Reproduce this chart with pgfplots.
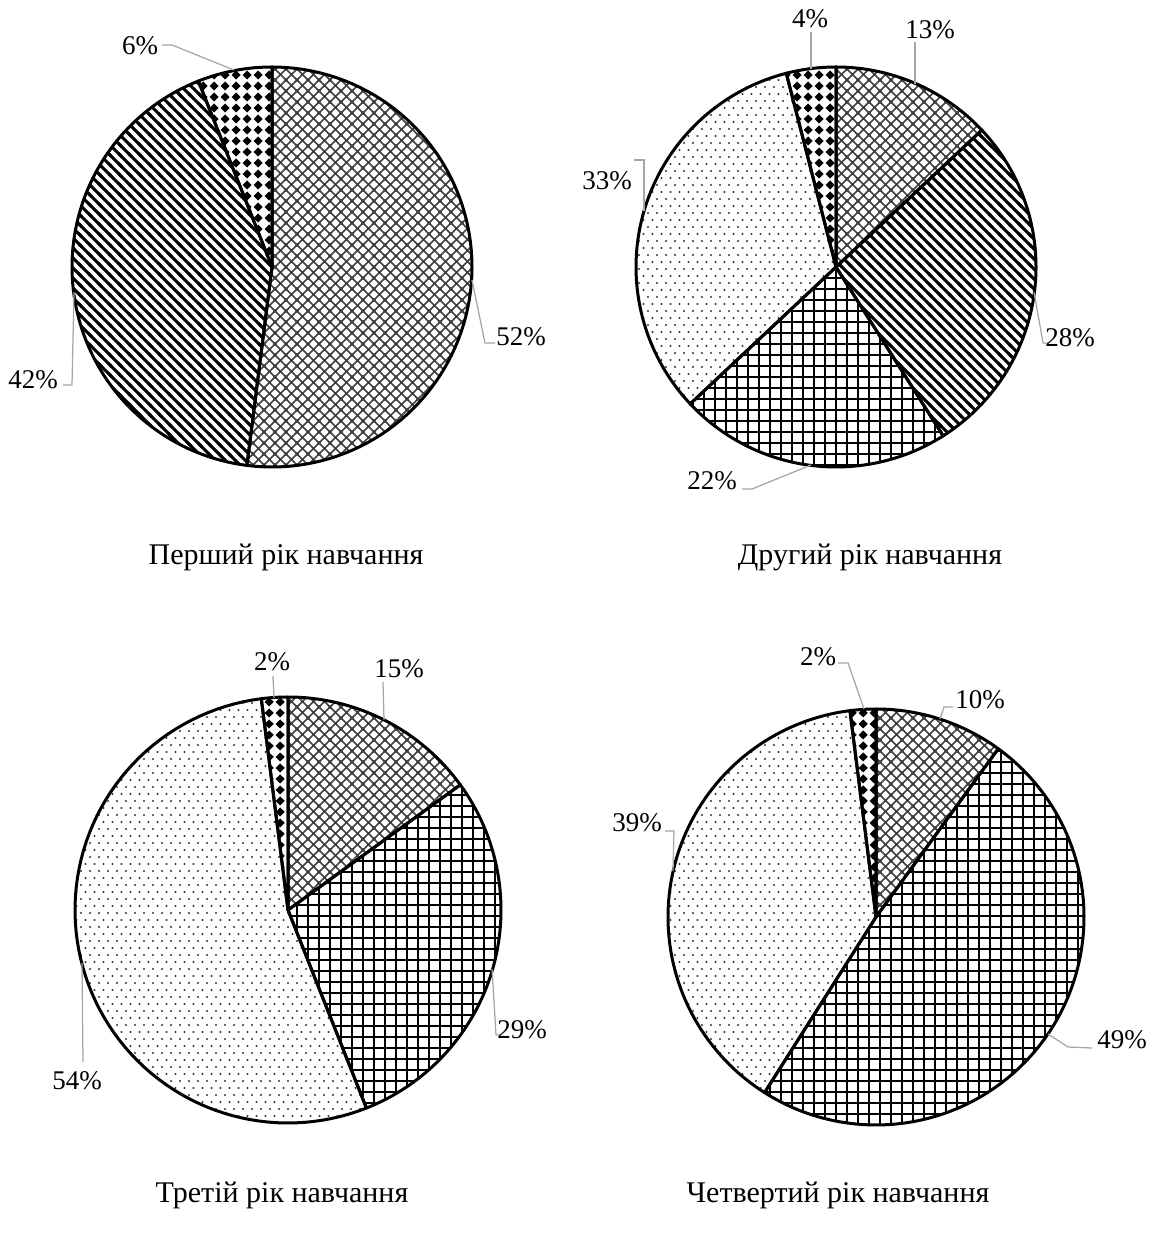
\documentclass[border=0pt]{standalone}
\usepackage{fontspec}
\setmainfont{Liberation Serif}
\usepackage{pgfplots}
\pgfplotsset{compat=1.18}
\usetikzlibrary{patterns}

% diagonal cross-hatch (grey)
\pgfdeclarepatternformonly{xhatch}{\pgfqpoint{-1pt}{-1pt}}{\pgfqpoint{5.4pt}{5.4pt}}{\pgfqpoint{4.4pt}{4.4pt}}{%
  \pgfsetlinewidth{0.6pt}%
  \pgfpathmoveto{\pgfqpoint{-0.5pt}{-0.5pt}}\pgfpathlineto{\pgfqpoint{4.9pt}{4.9pt}}%
  \pgfpathmoveto{\pgfqpoint{-0.5pt}{4.9pt}}\pgfpathlineto{\pgfqpoint{4.9pt}{-0.5pt}}%
  \pgfusepath{stroke}}
% thick "\" lines
\pgfdeclarepatternformonly{nwlines}{\pgfqpoint{-1pt}{-1pt}}{\pgfqpoint{5pt}{5pt}}{\pgfqpoint{4pt}{4pt}}{%
  \pgfsetlinewidth{1.2pt}%
  \pgfpathmoveto{\pgfqpoint{-1pt}{5pt}}\pgfpathlineto{\pgfqpoint{5pt}{-1pt}}%
  \pgfusepath{stroke}}
% square grid
\pgfdeclarepatternformonly{sqgrid}{\pgfqpoint{-1pt}{-1pt}}{\pgfqpoint{5.4pt}{5.4pt}}{\pgfqpoint{4.4pt}{4.4pt}}{%
  \pgfsetlinewidth{0.75pt}%
  \pgfpathmoveto{\pgfqpoint{0pt}{-0.5pt}}\pgfpathlineto{\pgfqpoint{0pt}{4.9pt}}%
  \pgfpathmoveto{\pgfqpoint{-0.5pt}{0pt}}\pgfpathlineto{\pgfqpoint{4.9pt}{0pt}}%
  \pgfusepath{stroke}}
% sparse staggered dots
\pgfdeclarepatternformonly{sdots}{\pgfqpoint{-1pt}{-1pt}}{\pgfqpoint{4.6pt}{6.6pt}}{\pgfqpoint{3.6pt}{5.6pt}}{%
  \pgfpathcircle{\pgfqpoint{0pt}{0pt}}{0.45pt}%
  \pgfpathcircle{\pgfqpoint{1.8pt}{2.8pt}}{0.45pt}%
  \pgfusepath{fill}}
% black diamonds
\pgfdeclarepatternformonly{bdiam}{\pgfqpoint{0pt}{0pt}}{\pgfqpoint{4.4pt}{4.4pt}}{\pgfqpoint{4.4pt}{4.4pt}}{%
  \pgfpathmoveto{\pgfqpoint{2.2pt}{0.25pt}}%
  \pgfpathlineto{\pgfqpoint{4.15pt}{2.2pt}}%
  \pgfpathlineto{\pgfqpoint{2.2pt}{4.15pt}}%
  \pgfpathlineto{\pgfqpoint{0.25pt}{2.2pt}}%
  \pgfpathclose
  \pgfusepath{fill}}

% slice: center x, center y, radius, cumulative % start, cumulative % end, pattern options
\newcommand{\pieslice}[6]{%
  \addplot[draw=black, line width=1.2pt, line join=round, #6,
    domain=#4:#5, samples=80, variable=\t]
    ({#1+#3*cos(90-3.6*\t)}, {#2-#3*sin(90-3.6*\t)}) -- (axis cs:#1,#2) -- cycle;}

\tikzset{lead/.style={draw=black!35, line width=0.5pt},
  lab/.style={font=\fontsize{10.8}{12}\selectfont, inner sep=0pt},
  ttl/.style={font=\fontsize{12}{14}\selectfont, inner sep=0pt}}

\begin{document}
\begin{tikzpicture}
\begin{axis}[
  width=462pt, height=494pt, scale only axis,
  xmin=0, xmax=1155, ymin=0, ymax=1235, y dir=reverse,
  hide axis, clip=false]

% ---- Pie 1: 52, 42, 6
\pieslice{272}{267}{200}{0}{52}{pattern=xhatch, pattern color=black!75}
\pieslice{272}{267}{200}{52}{94}{pattern=nwlines, pattern color=black}
\pieslice{272}{267}{200}{94}{100}{pattern=bdiam, pattern color=black}

% ---- Pie 2: 13, 28, 22, 33, 4
\pieslice{836}{267}{200}{0}{13}{pattern=xhatch, pattern color=black!75}
\pieslice{836}{267}{200}{13}{41}{pattern=nwlines, pattern color=black}
\pieslice{836}{267}{200}{41}{63}{pattern=sqgrid, pattern color=black}
\pieslice{836}{267}{200}{63}{96}{pattern=sdots, pattern color=black!80}
\pieslice{836}{267}{200}{96}{100}{pattern=bdiam, pattern color=black}

% ---- Pie 3: 15, 29, 54, 2
\pieslice{288}{910}{213}{0}{15}{pattern=xhatch, pattern color=black!75}
\pieslice{288}{910}{213}{15}{44}{pattern=sqgrid, pattern color=black}
\pieslice{288}{910}{213}{44}{98}{pattern=sdots, pattern color=black!80}
\pieslice{288}{910}{213}{98}{100}{pattern=bdiam, pattern color=black}

% ---- Pie 4: 10, 49, 39, 2
\pieslice{876}{917}{208}{0}{10}{pattern=xhatch, pattern color=black!75}
\pieslice{876}{917}{208}{10}{59}{pattern=sqgrid, pattern color=black}
\pieslice{876}{917}{208}{59}{98}{pattern=sdots, pattern color=black!80}
\pieslice{876}{917}{208}{98}{100}{pattern=bdiam, pattern color=black}

% ---- leader lines
\draw[lead] (axis cs:234,70) -- (axis cs:172,45) -- (axis cs:162,45);
\draw[lead] (axis cs:472,280) -- (axis cs:485,343) -- (axis cs:495,343);
\draw[lead] (axis cs:74,292) -- (axis cs:72,385) -- (axis cs:63,385);

\draw[lead] (axis cs:811,69) -- (axis cs:811,32);
\draw[lead] (axis cs:915,84) -- (axis cs:915,42);
\draw[lead] (axis cs:1034,292) -- (axis cs:1043,343) -- (axis cs:1049,343);
\draw[lead] (axis cs:811,465) -- (axis cs:752,489) -- (axis cs:742,489);
\draw[lead] (axis cs:644,211) -- (axis cs:644,160) -- (axis cs:634,160);

\draw[lead] (axis cs:274,698) -- (axis cs:273,676);
\draw[lead] (axis cs:384,720) -- (axis cs:383,682);
\draw[lead] (axis cs:492,969) -- (axis cs:496,1035) -- (axis cs:500,1035);
\draw[lead] (axis cs:82,963) -- (axis cs:83,1062);

\draw[lead] (axis cs:864,709) -- (axis cs:848,663) -- (axis cs:838,663);
\draw[lead] (axis cs:940,719) -- (axis cs:944,707) -- (axis cs:953,707);
\draw[lead] (axis cs:1048,1034) -- (axis cs:1068,1047) -- (axis cs:1092,1048);
\draw[lead] (axis cs:673,871) -- (axis cs:674,831) -- (axis cs:665,831);

% ---- labels
\node[lab] at (axis cs:140,46) {6\%};
\node[lab] at (axis cs:521,337) {52\%};
\node[lab] at (axis cs:33,380) {42\%};

\node[lab] at (axis cs:810,19) {4\%};
\node[lab] at (axis cs:930,30) {13\%};
\node[lab] at (axis cs:1070,338) {28\%};
\node[lab] at (axis cs:712,481) {22\%};
\node[lab] at (axis cs:607,181) {33\%};

\node[lab] at (axis cs:272,662) {2\%};
\node[lab] at (axis cs:399,669) {15\%};
\node[lab] at (axis cs:522,1030) {29\%};
\node[lab] at (axis cs:77,1081) {54\%};

\node[lab] at (axis cs:818,657) {2\%};
\node[lab] at (axis cs:980,700) {10\%};
\node[lab] at (axis cs:1122,1040) {49\%};
\node[lab] at (axis cs:637,823) {39\%};

% ---- titles
\node[ttl] at (axis cs:286,557) {Перший рік навчання};
\node[ttl] at (axis cs:870,557) {Другий рік навчання};
\node[ttl] at (axis cs:282,1195) {Третій рік навчання};
\node[ttl] at (axis cs:838,1195) {Четвертий рік навчання};
\end{axis}
\pgfresetboundingbox
\path (current axis.south west) rectangle (current axis.north east);
\end{tikzpicture}
\end{document}
